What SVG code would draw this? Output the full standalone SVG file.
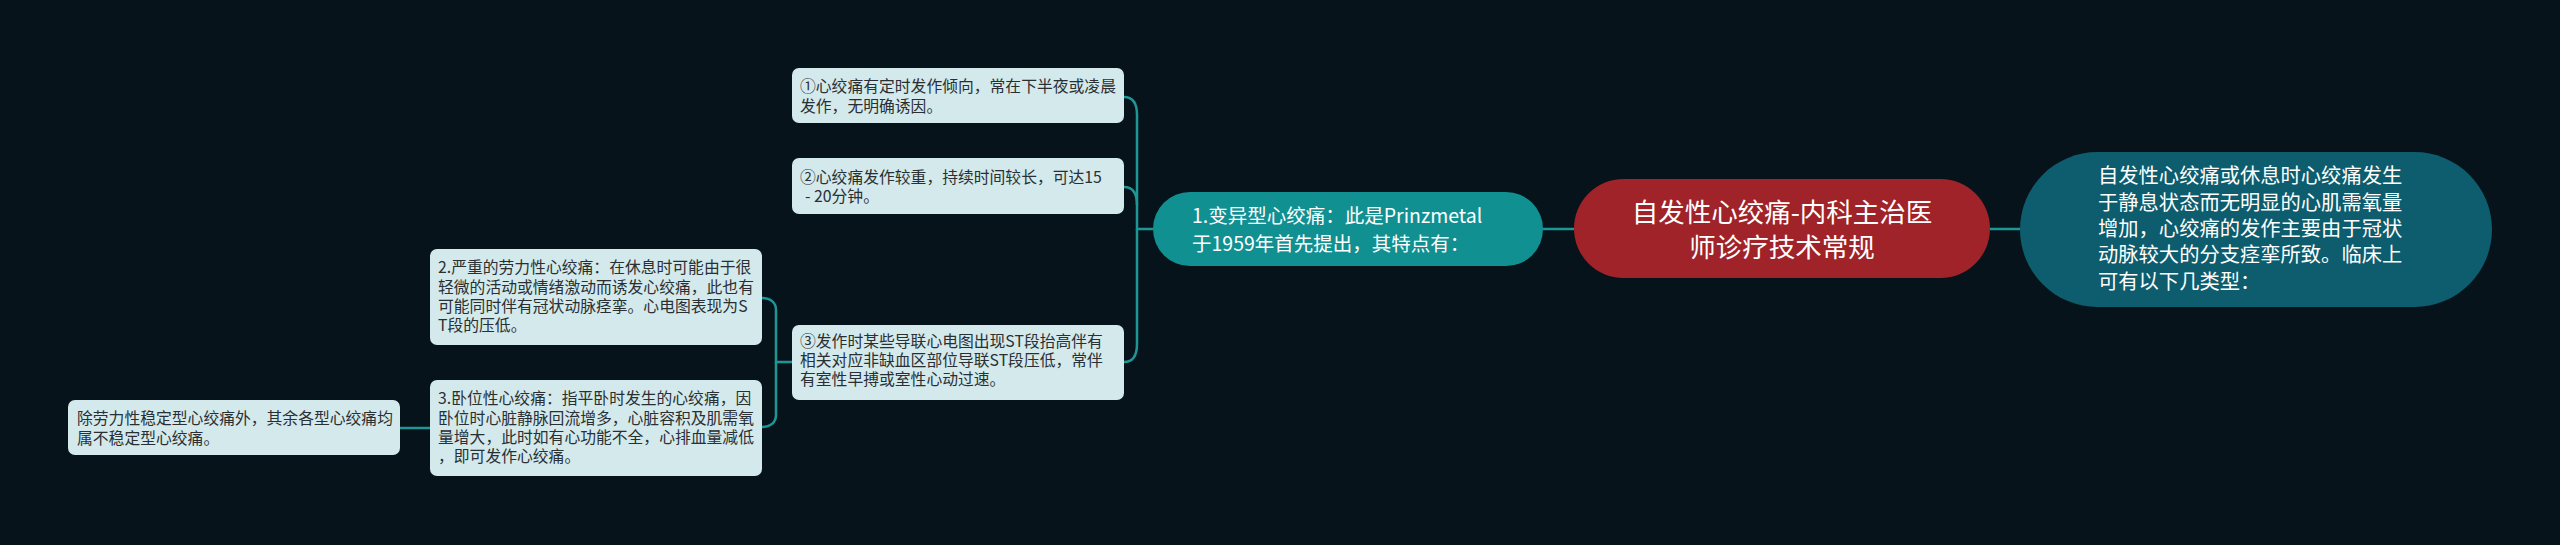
<svg xmlns="http://www.w3.org/2000/svg" width="2560" height="545" viewBox="0 0 2560 545">
<style>
text{font-family:"Noto Sans CJK SC","Noto Sans",sans-serif}
.leaf rect{fill:#d3e9eb}
.leaf text{fill:#2a2f33;font-size:15.8px}
.light{fill:#ffffff}
.conn path{fill:none;stroke:#1e9696;stroke-width:2.5}
</style>
<rect x="0" y="0" width="2560" height="545" fill="#07131a"/>
<g class="conn">
<path d="M1990,229 H2020"/>
<path d="M1543,229 H1574"/>
<path d="M1153,229 H1137 V115 C1137,104 1133,97 1124,97"/>
<path d="M1137,205 C1137,194 1133,187 1124,187"/>
<path d="M1137,229 V344 C1137,355 1133,362 1124,362"/>
<path d="M792,362 H776 V310 C776,303 771,298 762,298"/>
<path d="M776,362 V415 C776,422 771,427 762,427"/>
<path d="M430,428 H400"/>
</g>
<g id="root">
<rect x="1574" y="179" width="416" height="99" rx="49.5" fill="#a0232a"/>
<text class="light" font-size="26.5" text-anchor="middle"><tspan x="1782" y="222">自发性心绞痛-内科主治医</tspan><tspan x="1782" y="257">师诊疗技术常规</tspan></text>
</g>
<g id="summary">
<rect x="2020" y="152" width="472" height="155" rx="77.5" fill="#0d5d6e"/>
<text class="light" font-size="20.3"><tspan x="2098" y="183">自发性心绞痛或休息时心绞痛发生</tspan><tspan x="2098" y="210">于静息状态而无明显的心肌需氧量</tspan><tspan x="2098" y="236">增加，心绞痛的发作主要由于冠状</tspan><tspan x="2098" y="262">动脉较大的分支痉挛所致。临床上</tspan><tspan x="2098" y="289">可有以下几类型：</tspan></text>
</g>
<g id="node1">
<rect x="1153" y="192" width="390" height="74" rx="37" fill="#119092"/>
<text class="light" font-size="19.5"><tspan x="1192" y="223">1.变异型心绞痛：此是Prinzmetal</tspan><tspan x="1192" y="251">于1959年首先提出，其特点有：</tspan></text>
</g>
<g id="c1" class="leaf">
<rect x="792" y="68" width="332" height="55" rx="7"/>
<text><tspan x="800" y="92">①心绞痛有定时发作倾向，常在下半夜或凌晨</tspan><tspan x="800" y="112">发作，无明确诱因。</tspan></text>
</g>
<g id="c2" class="leaf">
<rect x="792" y="158" width="332" height="56" rx="7"/>
<text><tspan x="800" y="183">②心绞痛发作较重，持续时间较长，可达15</tspan><tspan x="805" y="202">- 20分钟。</tspan></text>
</g>
<g id="c3" class="leaf">
<rect x="792" y="325" width="332" height="75" rx="7"/>
<text><tspan x="800" y="347">③发作时某些导联心电图出现ST段抬高伴有</tspan><tspan x="800" y="366">相关对应非缺血区部位导联ST段压低，常伴</tspan><tspan x="800" y="385">有室性早搏或室性心动过速。</tspan></text>
</g>
<g id="n2" class="leaf">
<rect x="430" y="249" width="332" height="96" rx="7"/>
<text><tspan x="438" y="273">2.严重的劳力性心绞痛：在休息时可能由于很</tspan><tspan x="438" y="293">轻微的活动或情绪激动而诱发心绞痛，此也有</tspan><tspan x="438" y="312">可能同时伴有冠状动脉痉挛。心电图表现为S</tspan><tspan x="438" y="331">T段的压低。</tspan></text>
</g>
<g id="n3" class="leaf">
<rect x="430" y="380" width="332" height="96" rx="7"/>
<text><tspan x="438" y="404">3.卧位性心绞痛：指平卧时发生的心绞痛，因</tspan><tspan x="438" y="424">卧位时心脏静脉回流增多，心脏容积及肌需氧</tspan><tspan x="438" y="443">量增大，此时如有心功能不全，心排血量减低</tspan><tspan x="438" y="462">，即可发作心绞痛。</tspan></text>
</g>
<g id="note" class="leaf">
<rect x="68" y="400" width="332" height="55" rx="7"/>
<text><tspan x="77" y="424">除劳力性稳定型心绞痛外，其余各型心绞痛均</tspan><tspan x="77" y="444">属不稳定型心绞痛。</tspan></text>
</g>
</svg>
